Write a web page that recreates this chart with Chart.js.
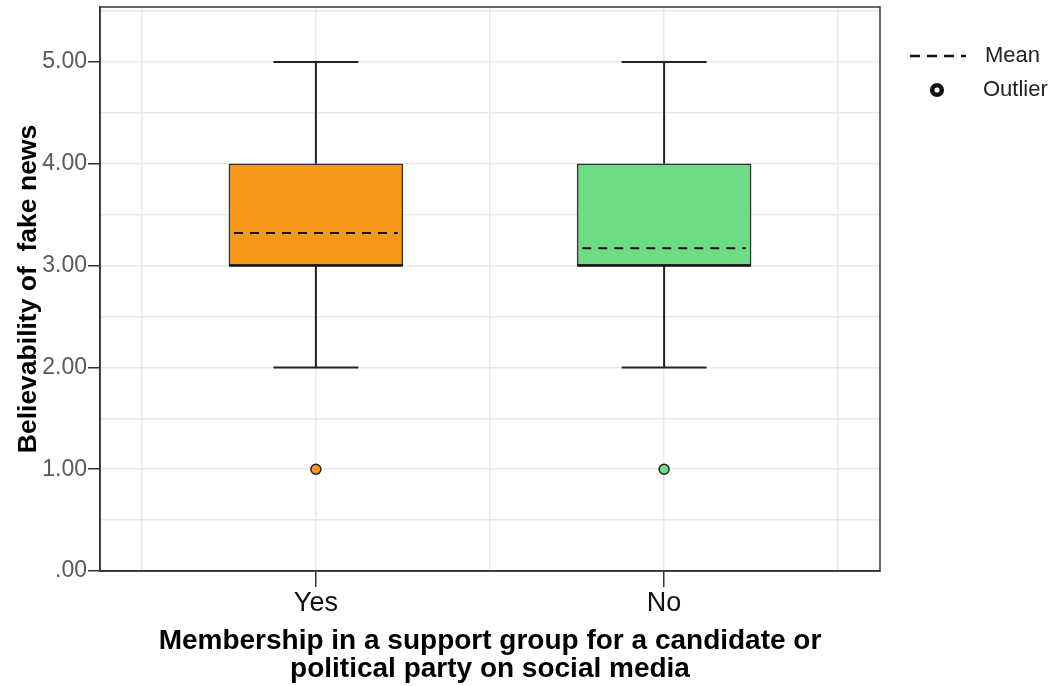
<!DOCTYPE html>
<html>
<head>
<meta charset="utf-8">
<script src="https://cdn.jsdelivr.net/npm/chart.js@4.4.1/dist/chart.umd.min.js"></script>
<style>
html,body{margin:0;padding:0;background:#fff;}
#wrap{width:1057px;height:686px;position:relative;}
</style>
</head>
<body>
<div id="wrap"><canvas id="c" width="1057" height="686"></canvas></div>
<script>
// ---- data ----
const categories = ['Yes', 'No'];
const whiskerLow = [2.00, 2.00];
const q1Values = [3.00, 3.00];
const medians = [3.00, 3.00];
const q3Values = [4.00, 4.00];
const whiskerHigh = [5.00, 5.00];
const means = [3.32, 3.17];
const outliers = [[1.00], [1.00]];
const yTickLabels = ['.00', '1.00', '2.00', '3.00', '4.00', '5.00'];
const boxColors = ['#F7981D', '#6FDC85'];
const xTitleLines = ['Membership in a support group for a candidate or', 'political party on social media'];

// ---- styling constants ----
const boxHalf = 0.249;   // half box width in category units
const capHalf = 0.122;   // half whisker-cap width
const meanInset = 0.235;

const xPos = categories.map((c, i) => i + 1);

function segs(builder) {
  const pts = [];
  xPos.forEach((x, i) => {
    builder(x, i).forEach(seg => {
      pts.push(seg[0], seg[1], {x: seg[1].x, y: null});
    });
  });
  return pts;
}

const whiskerData = segs((x, i) => [
  [{x: x, y: q3Values[i]}, {x: x, y: whiskerHigh[i]}],
  [{x: x - capHalf, y: whiskerHigh[i]}, {x: x + capHalf, y: whiskerHigh[i]}],
  [{x: x, y: whiskerLow[i]}, {x: x, y: q1Values[i]}],
  [{x: x - capHalf, y: whiskerLow[i]}, {x: x + capHalf, y: whiskerLow[i]}]
]);
const medianData = segs((x, i) => [[{x: x - boxHalf, y: medians[i]}, {x: x + boxHalf, y: medians[i]}]]);
const meanData = segs((x, i) => [[{x: x - meanInset, y: means[i]}, {x: x + meanInset, y: means[i]}]]);
const outlierData = [];
const outlierColors = [];
xPos.forEach((x, i) => outliers[i].forEach(v => { outlierData.push({x: x, y: v}); outlierColors.push(boxColors[i]); }));

const frameAndLegend = {
  id: 'frameAndLegend',
  afterDraw(chart) {
    const ctx = chart.ctx, a = chart.chartArea;
    ctx.save();
    ctx.strokeStyle = '#333';
    ctx.lineWidth = 1.5;
    ctx.strokeRect(a.left, a.top, a.right - a.left, a.bottom - a.top);
    // legend
    const lx = a.right + 30;
    ctx.strokeStyle = '#111';
    ctx.lineWidth = 2.5;
    ctx.setLineDash([10, 7]);
    ctx.beginPath(); ctx.moveTo(lx, 56); ctx.lineTo(lx + 56, 56); ctx.stroke();
    ctx.setLineDash([]);
    ctx.lineWidth = 4.5;
    ctx.fillStyle = '#fff';
    ctx.beginPath(); ctx.arc(lx + 27, 90, 4.8, 0, Math.PI * 2); ctx.fill(); ctx.stroke();
    ctx.fillStyle = '#222';
    ctx.font = '22px "Liberation Sans", Arial, sans-serif';
    ctx.textBaseline = 'middle';
    ctx.fillText('Mean', lx + 75, 56);
    ctx.fillText('Outlier', lx + 73, 90);
    // x axis title
    const cx = (a.left + a.right) / 2;
    ctx.fillStyle = '#000';
    ctx.font = 'bold 28px "Liberation Sans", Arial, sans-serif';
    ctx.textAlign = 'center';
    xTitleLines.forEach((t, k) => ctx.fillText(t, cx, 641 + k * 28));
    ctx.restore();
  }
};

new Chart(document.getElementById('c'), {
  data: {
    datasets: [
      {type: 'line', data: meanData, borderColor: '#111', borderWidth: 2, borderDash: [9, 7], pointRadius: 0, spanGaps: false, order: 0},
      {type: 'line', data: medianData, borderColor: '#111', borderWidth: 2.5, pointRadius: 0, spanGaps: false, order: 1},
      {type: 'scatter', data: outlierData, backgroundColor: outlierColors, borderColor: '#222', borderWidth: 1.5, pointRadius: 5, order: 2},
      {type: 'bar', data: xPos.map((x, i) => ({x: x, y: [q1Values[i], q3Values[i]]})), backgroundColor: boxColors, borderColor: '#333', borderWidth: 1.5, borderSkipped: false, barThickness: 174, order: 3},
      {type: 'line', data: whiskerData, borderColor: '#222', borderWidth: 2, pointRadius: 0, spanGaps: false, order: 4}
    ]
  },
  options: {
    responsive: false,
    animation: false,
    events: [],
    layout: {padding: {top: 7, right: 177, left: 0, bottom: 0}},
    plugins: {legend: {display: false}, tooltip: {enabled: false}},
    scales: {
      x: {
        type: 'linear',
        offset: false,
        min: 0.38, max: 2.62,
        afterBuildTicks: s => { s.ticks = [0.5, 1, 1.5, 2, 2.5].map(v => ({value: v})); },
        afterFit: s => { s.height = 115; s.paddingLeft = 0; s.paddingRight = 0; },
        ticks: {
          autoSkip: false, maxRotation: 0,
          color: '#111',
          font: {family: '"Liberation Sans", Arial', size: 27},
          padding: 0,
          callback: v => (Number.isInteger(v) ? categories[v - 1] : '')
        },
        grid: {
          offset: false,
          color: '#e9e9e9', lineWidth: 1.5, tickLength: 16,
          tickColor: c => (c.tick && Number.isInteger(c.tick.value) ? '#333' : 'rgba(0,0,0,0)'),
          tickWidth: 1.5
        },
        border: {display: true, color: '#333', width: 1.5},
        title: {display: false}
      },
      y: {
        type: 'linear',
        min: 0, max: 5.54,
        afterBuildTicks: s => { const t = []; for (let v = 0; v <= 5.5; v += 0.5) t.push({value: v}); s.ticks = t; },
        afterFit: s => { s.width = 100; s.paddingTop = 0; s.paddingBottom = 0; },
        ticks: {
          autoSkip: false,
          color: '#595959',
          font: {family: '"Liberation Sans", Arial', size: 23},
          padding: 1,
          callback: v => (Number.isInteger(v) ? yTickLabels[v] : '')
        },
        grid: {
          color: '#e9e9e9', lineWidth: 1.5, tickLength: 12,
          tickColor: c => (c.tick && Number.isInteger(c.tick.value) ? '#333' : 'rgba(0,0,0,0)'),
          tickWidth: 1.5
        },
        border: {display: true, color: '#333', width: 1.5},
        title: {
          display: true,
          text: 'Believability of  fake news',
          color: '#000',
          font: {family: '"Liberation Sans", Arial', size: 26.5, weight: 'bold'},
          padding: {top: 13, bottom: 0}
        }
      }
    }
  },
  plugins: [frameAndLegend]
});
</script>
</body>
</html>
